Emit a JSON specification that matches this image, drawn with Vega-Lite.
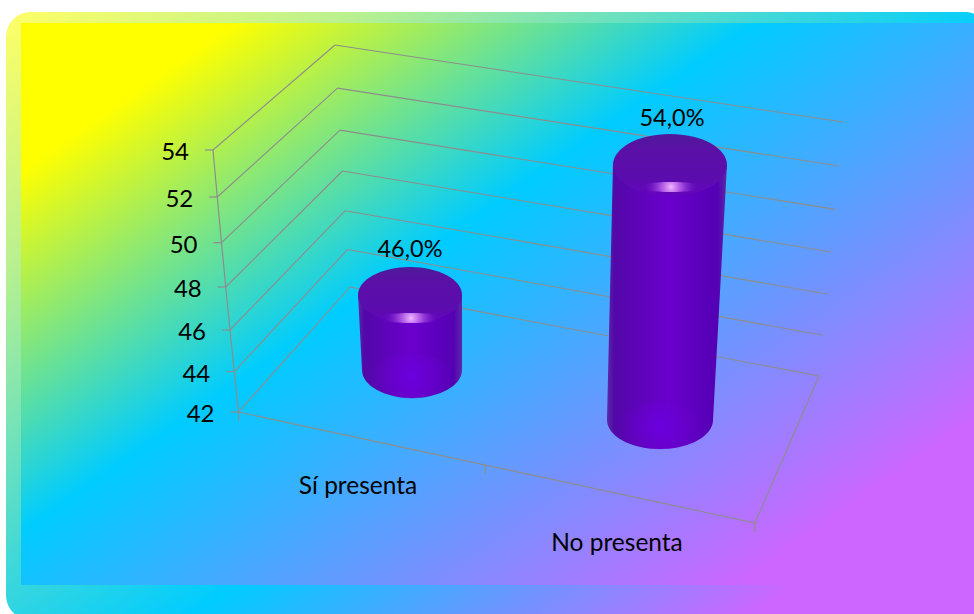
{
  "$schema": "https://vega.github.io/schema/vega-lite/v6.json",
  "width": 974,
  "height": 614,
  "autosize": {"type": "none"},
  "padding": 0,
  "background": "#ffffff",
  "config": {"view": {"stroke": null}},
  "datasets": {
    "levels": [
      {"value": 42}, {"value": 44}, {"value": 46}, {"value": 48},
      {"value": 50}, {"value": 52}, {"value": 54}
    ],
    "bars": [
      {"category": "Sí presenta", "slot": 0, "value": 46, "label": "46,0%"},
      {"category": "No presenta", "slot": 1, "value": 54, "label": "54,0%"}
    ],
    "floorTicks": [{"along": 0}, {"along": 0.478}, {"along": 1}]
  },
  "data": {"name": "levels"},
  "transform": [
    {"calculate": "(datum.value - 42) / 12", "as": "t"},
    {"calculate": "238.5 - 25.5 * datum.t", "as": "frontX"},
    {"calculate": "412 - 238 * datum.t - 24 * datum.t * datum.t", "as": "frontY"},
    {"calculate": "350 - 15 * datum.t", "as": "backX"},
    {"calculate": "287 - 222 * datum.t - 20 * datum.t * datum.t", "as": "backY"},
    {"calculate": "819 + 24 * datum.t", "as": "sideX"},
    {"calculate": "376 - 242 * datum.t - 12 * datum.t * datum.t", "as": "sideY"},
    {"calculate": "datum.frontX - 8", "as": "tickX"},
    {"calculate": "datum.frontX - 24", "as": "labelX"},
    {"calculate": "datum.frontY + 3", "as": "labelY"}
  ],
  "layer": [
    {
      "data": {"values": [{}]},
      "transform": [],
      "mark": {
        "type": "rect",
        "cornerRadius": 25,
        "fill": {
          "gradient": "linear", "x1": 0, "y1": 0, "x2": 1, "y2": 0.85,
          "stops": [
            {"offset": 0, "color": "#ffff66"},
            {"offset": 0.21, "color": "#b8f090"},
            {"offset": 0.45, "color": "#40d8d8"},
            {"offset": 0.6, "color": "#00ccff"},
            {"offset": 0.93, "color": "#cc66ff"}
          ]
        }
      },
      "encoding": {
        "x": {"datum": 6, "type": "quantitative", "axis": null, "scale": {"domain": [0, 974]}},
        "x2": {"datum": 990},
        "y": {"datum": 12, "type": "quantitative", "axis": null, "scale": {"domain": [0, 614], "reverse": true}},
        "y2": {"datum": 620}
      }
    },
    {
      "data": {"values": [{}]},
      "transform": [],
      "mark": {
        "type": "rect",
        "fill": {
          "gradient": "linear", "x1": 0, "y1": 0, "x2": 1, "y2": 0.85,
          "stops": [
            {"offset": 0.13, "color": "#ffff00"},
            {"offset": 0.447, "color": "#00ccff"},
            {"offset": 0.93, "color": "#cc66ff"}
          ]
        }
      },
      "encoding": {
        "x": {"datum": 21, "type": "quantitative", "scale": {"domain": [0, 974]}},
        "x2": {"datum": 974},
        "y": {"datum": 23, "type": "quantitative", "scale": {"domain": [0, 614], "reverse": true}},
        "y2": {"datum": 585}
      }
    },
    {
      "mark": {"type": "rule", "stroke": "#8d8d8d", "strokeWidth": 1.1},
      "encoding": {
        "x": {"field": "frontX", "type": "quantitative", "scale": {"domain": [0, 974]}},
        "y": {"field": "frontY", "type": "quantitative", "scale": {"domain": [0, 614], "reverse": true}},
        "x2": {"field": "backX"},
        "y2": {"field": "backY"}
      }
    },
    {
      "mark": {"type": "rule", "stroke": "#8d8d8d", "strokeWidth": 1.1},
      "encoding": {
        "x": {"field": "backX", "type": "quantitative", "scale": {"domain": [0, 974]}},
        "y": {"field": "backY", "type": "quantitative", "scale": {"domain": [0, 614], "reverse": true}},
        "x2": {"field": "sideX"},
        "y2": {"field": "sideY"}
      }
    },
    {
      "mark": {"type": "line", "stroke": "#8d8d8d", "strokeWidth": 1.2},
      "encoding": {
        "x": {"field": "frontX", "type": "quantitative", "scale": {"domain": [0, 974]}},
        "y": {"field": "frontY", "type": "quantitative", "scale": {"domain": [0, 614], "reverse": true}},
        "order": {"field": "value"}
      }
    },
    {
      "mark": {"type": "rule", "stroke": "#8d8d8d", "strokeWidth": 1.2},
      "encoding": {
        "x": {"field": "tickX", "type": "quantitative", "scale": {"domain": [0, 974]}},
        "y": {"field": "frontY", "type": "quantitative", "scale": {"domain": [0, 614], "reverse": true}},
        "x2": {"field": "frontX"}
      }
    },
    {
      "transform": [
        {"filter": "datum.value === 42"},
        {"calculate": "238.5", "as": "frontX"},
        {"calculate": "412", "as": "frontY"},
        {"calculate": "755", "as": "cornerX"},
        {"calculate": "523", "as": "cornerY"}
      ],
      "mark": {"type": "rule", "stroke": "#8d8d8d", "strokeWidth": 1.1},
      "encoding": {
        "x": {"field": "frontX", "type": "quantitative", "scale": {"domain": [0, 974]}},
        "y": {"field": "frontY", "type": "quantitative", "scale": {"domain": [0, 614], "reverse": true}},
        "x2": {"field": "cornerX"},
        "y2": {"field": "cornerY"}
      }
    },
    {
      "transform": [
        {"filter": "datum.value === 42"},
        {"calculate": "819", "as": "sideX"},
        {"calculate": "376", "as": "sideY"},
        {"calculate": "755", "as": "cornerX"},
        {"calculate": "523", "as": "cornerY"}
      ],
      "mark": {"type": "rule", "stroke": "#8d8d8d", "strokeWidth": 1.1},
      "encoding": {
        "x": {"field": "sideX", "type": "quantitative", "scale": {"domain": [0, 974]}},
        "y": {"field": "sideY", "type": "quantitative", "scale": {"domain": [0, 614], "reverse": true}},
        "x2": {"field": "cornerX"},
        "y2": {"field": "cornerY"}
      }
    },
    {
      "data": {"name": "floorTicks"},
      "transform": [
        {"calculate": "238.5 + 516.5 * datum.along", "as": "tx"},
        {"calculate": "412 + 111 * datum.along", "as": "ty"},
        {"calculate": "datum.ty + 9", "as": "ty2"}
      ],
      "mark": {"type": "rule", "stroke": "#8d8d8d", "strokeWidth": 1.2},
      "encoding": {
        "x": {"field": "tx", "type": "quantitative", "scale": {"domain": [0, 974]}},
        "y": {"field": "ty", "type": "quantitative", "scale": {"domain": [0, 614], "reverse": true}},
        "y2": {"field": "ty2"}
      }
    },
    {
      "mark": {"type": "text", "align": "right", "baseline": "middle", "font": "Lato", "fontSize": 24, "fill": "#000000"},
      "encoding": {
        "x": {"field": "labelX", "type": "quantitative", "scale": {"domain": [0, 974]}},
        "y": {"field": "labelY", "type": "quantitative", "scale": {"domain": [0, 614], "reverse": true}},
        "text": {"field": "value", "type": "nominal"}
      }
    },
    {
      "data": {"name": "bars"},
      "transform": [
        {"calculate": "datum.value - 42", "as": "rise"},
        {"calculate": "412 + 248 * datum.slot", "as": "baseX"},
        {"calculate": "370 + 50 * datum.slot", "as": "baseY"},
        {"calculate": "50 + 3 * datum.slot", "as": "baseRx"},
        {"calculate": "28 + datum.slot", "as": "baseRy"},
        {"calculate": "datum.baseX + (1.33 * datum.slot - 0.5) * datum.rise", "as": "topX"},
        {"calculate": "datum.baseY - (18.75 + 2.5 * datum.slot) * datum.rise", "as": "topY"},
        {"calculate": "52 + 5 * datum.slot", "as": "topRx"},
        {"calculate": "28 + 3 * datum.slot", "as": "topRy"},
        {"calculate": "'M' + (-datum.topRx) + ',0L' + (datum.baseX - datum.baseRx - datum.topX) + ',' + (datum.baseY - datum.topY) + 'A' + datum.baseRx + ',' + datum.baseRy + ' 0 0,0 ' + (datum.baseX + datum.baseRx - datum.topX) + ',' + (datum.baseY - datum.topY) + 'L' + datum.topRx + ',0Z'", "as": "bodyPath"},
        {"calculate": "'M' + (-datum.baseRx * 0.8) + ',0A' + (datum.baseRx * 0.8) + ',' + (datum.baseRy * 0.8) + ' 0 1,1 ' + (datum.baseRx * 0.8) + ',0A' + (datum.baseRx * 0.8) + ',' + (datum.baseRy * 0.8) + ' 0 1,1 ' + (-datum.baseRx * 0.8) + ',0Z'", "as": "glowPath"},
        {"calculate": "'M' + (-datum.topRx) + ',0A' + datum.topRx + ',' + datum.topRy + ' 0 1,1 ' + datum.topRx + ',0A' + datum.topRx + ',' + datum.topRy + ' 0 1,1 ' + (-datum.topRx) + ',0Z'", "as": "capPath"},
        {"calculate": "'M-34,0A34,5 0 1,1 34,0A34,5 0 1,1 -34,0Z'", "as": "shinePath"},
        {"calculate": "datum.topX + 1", "as": "shineX"},
        {"calculate": "datum.topY + datum.topRy - 5 - 4 * datum.slot", "as": "shineY"},
        {"calculate": "datum.baseY + 6", "as": "glowY"},
        {"calculate": "datum.topY - datum.topRy - 17 + 2 * datum.slot", "as": "valueY"},
        {"calculate": "datum.topX + 2 * datum.slot", "as": "valueX"},
        {"calculate": "358 + 259 * datum.slot", "as": "catX"},
        {"calculate": "487 + 57 * datum.slot", "as": "catY"}
      ],
      "layer": [
        {
          "mark": {
            "type": "point", "filled": true, "opacity": 1, "size": 4,
            "fill": {
              "gradient": "linear", "x1": 0, "y1": 0, "x2": 1, "y2": 0,
              "stops": [
                {"offset": 0, "color": "#5a2aa6"},
                {"offset": 0.06, "color": "#5208a8"},
                {"offset": 0.5, "color": "#6a00cc"},
                {"offset": 0.92, "color": "#5400b4"},
                {"offset": 1, "color": "#5a2aa6"}
              ]
            }
          },
          "encoding": {
            "x": {"field": "topX", "type": "quantitative", "scale": {"domain": [0, 974]}},
            "y": {"field": "topY", "type": "quantitative", "scale": {"domain": [0, 614], "reverse": true}},
            "shape": {"field": "bodyPath", "type": "nominal", "scale": null}
          }
        },
        {
          "mark": {
            "type": "point", "filled": true, "opacity": 1, "size": 4,
            "fill": {
              "gradient": "radial", "x1": 0.5, "y1": 0.5, "r1": 0, "x2": 0.5, "y2": 0.5, "r2": 0.5,
              "stops": [
                {"offset": 0, "color": "#6a00de"},
                {"offset": 1, "color": "rgba(106,0,204,0)"}
              ]
            }
          },
          "encoding": {
            "x": {"field": "baseX", "type": "quantitative", "scale": {"domain": [0, 974]}},
            "y": {"field": "glowY", "type": "quantitative", "scale": {"domain": [0, 614], "reverse": true}},
            "shape": {"field": "glowPath", "type": "nominal", "scale": null}
          }
        },
        {
          "mark": {
            "type": "point", "filled": true, "opacity": 1, "size": 4,
            "fill": {
              "gradient": "linear", "x1": 0, "y1": 0, "x2": 0, "y2": 1,
              "stops": [
                {"offset": 0, "color": "#4f1a9a"},
                {"offset": 0.25, "color": "#5a10a6"},
                {"offset": 0.75, "color": "#5c0cae"},
                {"offset": 1, "color": "#6404c0"}
              ]
            }
          },
          "encoding": {
            "x": {"field": "topX", "type": "quantitative", "scale": {"domain": [0, 974]}},
            "y": {"field": "topY", "type": "quantitative", "scale": {"domain": [0, 614], "reverse": true}},
            "shape": {"field": "capPath", "type": "nominal", "scale": null}
          }
        },
        {
          "mark": {
            "type": "point", "filled": true, "opacity": 1, "size": 4,
            "fill": {
              "gradient": "radial", "x1": 0.5, "y1": 0.5, "r1": 0, "x2": 0.5, "y2": 0.5, "r2": 0.5,
              "stops": [
                {"offset": 0, "color": "#f2b8ff"},
                {"offset": 0.3, "color": "rgba(200,110,245,0.7)"},
                {"offset": 0.8, "color": "rgba(110,10,200,0)"}
              ]
            }
          },
          "encoding": {
            "x": {"field": "shineX", "type": "quantitative", "scale": {"domain": [0, 974]}},
            "y": {"field": "shineY", "type": "quantitative", "scale": {"domain": [0, 614], "reverse": true}},
            "shape": {"field": "shinePath", "type": "nominal", "scale": null}
          }
        },
        {
          "mark": {"type": "text", "font": "Lato", "fontSize": 23.5, "fill": "#000000", "baseline": "middle"},
          "encoding": {
            "x": {"field": "valueX", "type": "quantitative", "scale": {"domain": [0, 974]}},
            "y": {"field": "valueY", "type": "quantitative", "scale": {"domain": [0, 614], "reverse": true}},
            "text": {"field": "label", "type": "nominal"}
          }
        },
        {
          "mark": {"type": "text", "font": "Lato", "fontSize": 24.5, "fill": "#000000", "baseline": "middle"},
          "encoding": {
            "x": {"field": "catX", "type": "quantitative", "scale": {"domain": [0, 974]}},
            "y": {"field": "catY", "type": "quantitative", "scale": {"domain": [0, 614], "reverse": true}},
            "text": {"field": "category", "type": "nominal"}
          }
        }
      ]
    }
  ]
}
